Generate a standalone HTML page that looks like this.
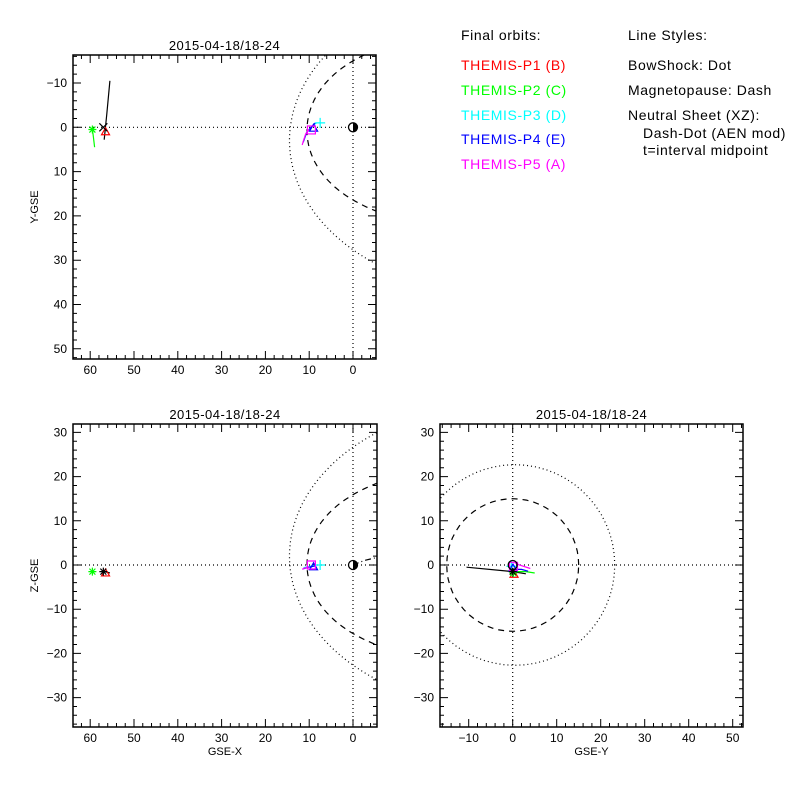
<!DOCTYPE html>
<html><head><meta charset="utf-8">
<style>
body{margin:0;background:#fff;}
#wrap{position:relative;width:800px;height:800px;background:#fff;overflow:hidden;font-family:"Liberation Sans",sans-serif;}
.lg{position:absolute;font-size:14px;letter-spacing:0.6px;white-space:nowrap;line-height:16px;}
</style></head>
<body>
<div id="wrap">
<svg id="svg" width="800" height="800" style="position:absolute;left:0;top:0"></svg>
<div class="lg" style="left:461px;top:27px;color:#000">Final orbits:</div>
<div class="lg" style="left:461px;top:57px;color:#ff0000">THEMIS-P1 (B)</div>
<div class="lg" style="left:461px;top:82px;color:#00ff00">THEMIS-P2 (C)</div>
<div class="lg" style="left:461px;top:107px;color:#00ffff">THEMIS-P3 (D)</div>
<div class="lg" style="left:461px;top:131px;color:#0000ff">THEMIS-P4 (E)</div>
<div class="lg" style="left:461px;top:156px;color:#ff00ff">THEMIS-P5 (A)</div>
<div class="lg" style="left:628px;top:27px">Line Styles:</div>
<div class="lg" style="left:628px;top:57px">BowShock: Dot</div>
<div class="lg" style="left:628px;top:82px">Magnetopause: Dash</div>
<div class="lg" style="left:628px;top:107px">Neutral Sheet (XZ):</div>
<div class="lg" style="left:643px;top:125px">Dash-Dot (AEN mod)</div>
<div class="lg" style="left:643px;top:142px">t=interval midpoint</div>
</div>
<script>
// ---- data ----
const ticksX = [60,50,40,30,20,10,0];
const ticksY = [-10,0,10,20,30,40,50];
const ticksZ = [30,20,10,0,-10,-20,-30];
const ticksYh = [-10,0,10,20,30,40,50];
const colors = ['#ff0000','#00ff00','#00ffff','#0000ff','#ff00ff','#000000'];
// orbit tracks [x,y,z] per probe
const trkP1 = [[56.8,2.8,-1.5],[56.2,-3,-1.6],[55.5,-10.5,-1.8]];
const trkP2 = [[59.5,0.5,-1.5],[59.3,2,-1.5],[59.0,4.5,-1.6]];
const trkP3 = [[11.3,3.2,-0.6],[10.5,1,-0.4],[9.2,-0.4,-0.2],[8.3,-1.0,0]];
const trkP4 = [[11.4,3.4,-0.9],[10.6,1.2,-0.6],[9.6,0,-0.4],[8.6,-1.0,-0.2]];
const trkP5 = [[11.6,4.0,-1.0],[11.3,3,-0.8],[10.8,1.5,-0.6],[10,0.5,-0.4]];
const trkYZ = [[-10.5,-0.5],[0,-1.5],[3,-2]];
const endPts = [[56.5,1,-1.8],[59.5,0.5,-1.5],[7.5,-1,0],[9.0,0.2,-0.4],[9.5,0.6,0]];
// model boundaries
const mpParams = [10.5,0.58];   // Shue r0, alpha
const bsParams = [14.5,0.7];    // nose, eccentricity
const bsOffsets = [3,2,0.5];    // XY, XZ offsets, YZ center shift
const mpOffsets = [0.7,0.2];

const svg=document.getElementById('svg');
const NS='http://www.w3.org/2000/svg';
function mk(t,a){const e=document.createElementNS(NS,t);for(const k in a)e.setAttribute(k,a[k]);svg.appendChild(e);return e;}

const plots=[
 {name:'xy',x0:73,y0:55,w:303,h:304,ox:353,sx:-4.38,oy:127.3,sy:4.43,tx:ticksX,ty:ticksY,xl:'',yl:'Y-GSE'},
 {name:'xz',x0:73,y0:424,w:304,h:303,ox:353,sx:-4.38,oy:565,sy:-4.42,tx:ticksX,ty:ticksZ,xl:'GSE-X',yl:'Z-GSE'},
 {name:'yz',x0:440,y0:424,w:303,h:303,ox:512.7,sx:4.4,oy:565,sy:-4.42,tx:ticksYh,ty:ticksZ,xl:'GSE-Y',yl:''}
];
function X(p,v){return p.ox+v*p.sx;} function Y(p,v){return p.oy+v*p.sy;}
function line(p,pts,col,dash,name){
  const d=pts.map((q,i)=>(i?'L':'M')+X(p,q[0]).toFixed(1)+' '+Y(p,q[1]).toFixed(1)).join(' ');
  const e=mk('path',{d:d,fill:'none',stroke:col,'stroke-width':1.2,'stroke-dasharray':dash||'','clip-path':'url(#c'+p.name+')'});
  
  
  return e;
}
function marker(p,v,col,kind,name){
  const cx=X(p,v[0]),cy=Y(p,v[1]);let d;
  if(kind==='star')d=`M${cx-4} ${cy}L${cx+4} ${cy}M${cx} ${cy-4}L${cx} ${cy+4}M${cx-3} ${cy-3}L${cx+3} ${cy+3}M${cx-3} ${cy+3}L${cx+3} ${cy-3}`;
  else if(kind==='x')d=`M${cx-4} ${cy-4}L${cx+4} ${cy+4}M${cx-4} ${cy+4}L${cx+4} ${cy-4}`;
  else if(kind==='tri')d=`M${cx} ${cy-4}L${cx+4} ${cy+3}L${cx-4} ${cy+3}Z`;
  else if(kind==='plus')d=`M${cx-5} ${cy}L${cx+5} ${cy}M${cx} ${cy-5}L${cx} ${cy+5}`;
  else if(kind==='sq')d=`M${cx-4} ${cy-4}h8v8h-8Z`;
  const e=mk('path',{d:d,fill:'none',stroke:col,'stroke-width':1.2});
  
  
}
const defs=mk('defs',{});
plots.forEach(p=>{
  const cp=document.createElementNS(NS,'clipPath');cp.setAttribute('id','c'+p.name);
  const r=document.createElementNS(NS,'rect');r.setAttribute('x',p.x0);r.setAttribute('y',p.y0);r.setAttribute('width',p.w);r.setAttribute('height',p.h);
  cp.appendChild(r);defs.appendChild(cp);
  const t=mk('text',{x:p.x0+p.w/2,y:p.y0-5,'text-anchor':'middle','font-size':13,'letter-spacing':0.5});t.textContent='2015-04-18/18-24';
  
  
  // zero lines
  const zl=mk('path',{d:`M${p.x0} ${p.oy}H${p.x0+p.w}M${p.ox} ${p.y0}V${p.y0+p.h}`,stroke:'#000','stroke-width':1.2,'stroke-dasharray':'1 3',fill:'none'});
  
  
  // frame
  const fr=mk('rect',{x:p.x0,y:p.y0,width:p.w,height:p.h,fill:'none',stroke:'#000','stroke-width':1.5});
  
  
  // ticks
  let d='';
  const vx0=(p.x0-p.ox)/p.sx,vx1=(p.x0+p.w-p.ox)/p.sx;
  for(let v=Math.ceil(Math.min(vx0,vx1)/2)*2;v<=Math.max(vx0,vx1);v+=2){const x=X(p,v),L=(v%10===0)?8:4;d+=`M${x} ${p.y0+p.h}v${-L}M${x} ${p.y0}v${L}`;}
  const vy0=(p.y0-p.oy)/p.sy,vy1=(p.y0+p.h-p.oy)/p.sy;
  for(let v=Math.ceil(Math.min(vy0,vy1)/2)*2;v<=Math.max(vy0,vy1);v+=2){const y=Y(p,v),L=(v%10===0)?8:4;d+=`M${p.x0} ${y}h${L}M${p.x0+p.w} ${y}h${-L}`;}
  const tk=mk('path',{d:d,stroke:'#000','stroke-width':1,fill:'none'});
  
  
  p.tx.forEach(v=>{const e=mk('text',{x:X(p,v),y:p.y0+p.h+15,'text-anchor':'middle','font-size':12});e.textContent=String(v).replace('-','\u2212');
    
    });
  p.ty.forEach(v=>{const e=mk('text',{x:p.x0-6,y:Y(p,v)+4,'text-anchor':'end','font-size':12});e.textContent=String(v).replace('-','\u2212');
    
    });
  if(p.xl){const e=mk('text',{x:p.x0+p.w/2,y:p.y0+p.h+28,'text-anchor':'middle','font-size':11});e.textContent=p.xl;
    
    }
  if(p.yl){const cy=p.y0+p.h/2;const e=mk('text',{x:38,y:cy,'text-anchor':'middle','font-size':11,transform:`rotate(-90 38 ${cy})`});e.textContent=p.yl;
    
    }
});
// boundaries in XY, XZ
function mpPts(off){const a=[];for(let t=-170;t<=170;t+=2){const th=t*Math.PI/180;const r=mpParams[0]*Math.pow(2/(1+Math.cos(th)),mpParams[1]);if(r>120)continue;a.push([r*Math.cos(th),r*Math.sin(th)+off]);}return a;}
function bsPts(off){const L=bsParams[0]*(1+bsParams[1]),a=[];for(let t=-140;t<=140;t+=2){const th=t*Math.PI/180;const r=L/(1+bsParams[1]*Math.cos(th));a.push([r*Math.cos(th),r*Math.sin(th)+off]);}return a;}
line(plots[0],bsPts(bsOffsets[0]),'#000','1 3','bowshock-xy');
line(plots[0],mpPts(mpOffsets[0]),'#000','6 5','magnetopause-xy');
line(plots[1],bsPts(bsOffsets[1]),'#000','1 3','bowshock-xz');
line(plots[1],mpPts(mpOffsets[1]),'#000','6 5','magnetopause-xz');
line(plots[1],[[0,0],[-2.5,1],[-5,1.6]],'#000','6 3 1 3','neutral-sheet-xz');
// YZ circles
function circ(c,r){const a=[];for(let t=0;t<=360;t+=6){const th=t*Math.PI/180;a.push([c+r*Math.cos(th),r*Math.sin(th)]);}return a;}
line(plots[2],circ(bsOffsets[2],22.7),'#000','1 3','bowshock-yz');
line(plots[2],circ(0,15),'#000','6 5','magnetopause-yz');
// tracks
const trks=[trkP1,trkP2,trkP3,trkP4,trkP5];
const tcol=['#000','#00ff00','#00ffff','#0000ff','#ff00ff'];
trks.forEach((t,i)=>{
  line(plots[0],t.map(q=>[q[0],q[1]]),tcol[i],'','orbit-xy-p'+(i+1));
  line(plots[1],t.map(q=>[q[0],q[2]]),tcol[i],'','orbit-xz-p'+(i+1));
});
line(plots[2],trkYZ,'#000','','orbit-yz-p1');
line(plots[2],[[0.5,0.5],[1.5,0],[4,-0.8]],'#ff00ff','','orbit-yz-p5');
line(plots[2],[[1,-1.5],[3,-1.5],[5,-1.8]],'#00ff00','','orbit-yz-p2');
line(plots[2],[[0,-1],[2,-1],[3.5,-1.4]],'#0000ff','','orbit-yz-p4');
// markers
const kinds=['tri','star','plus','tri','sq'];
endPts.forEach((v,i)=>{
  marker(plots[0],[v[0],v[1]],colors[i],kinds[i],'marker-xy-p'+(i+1));
  marker(plots[1],[v[0],v[2]],colors[i],kinds[i],'marker-xz-p'+(i+1));
  marker(plots[2],[v[1]*0.3,v[2]-0.3],colors[i],kinds[i],'marker-yz-p'+(i+1));
});
marker(plots[0],[57,0],'#000','x','marker-xy-ref');
marker(plots[1],[57,-1.5],'#000','star','marker-xz-ref');
marker(plots[2],[0,-1.5],'#000','star','marker-yz-ref');
// earth
[0,1].forEach(i=>{const p=plots[i];const cx=X(p,0),cy=Y(p,0);
  const c=mk('circle',{cx:cx,cy:cy,r:4.5,fill:'#fff',stroke:'#000','stroke-width':1.3});
  
  
  const h=mk('path',{d:`M${cx} ${cy-4.5}A4.5 4.5 0 0 1 ${cx} ${cy+4.5}Z`,fill:'#000'});
  
  });
const ec=mk('circle',{cx:X(plots[2],0),cy:Y(plots[2],0),r:4.5,fill:'none',stroke:'#000','stroke-width':1.3});


</script>
</body></html>
